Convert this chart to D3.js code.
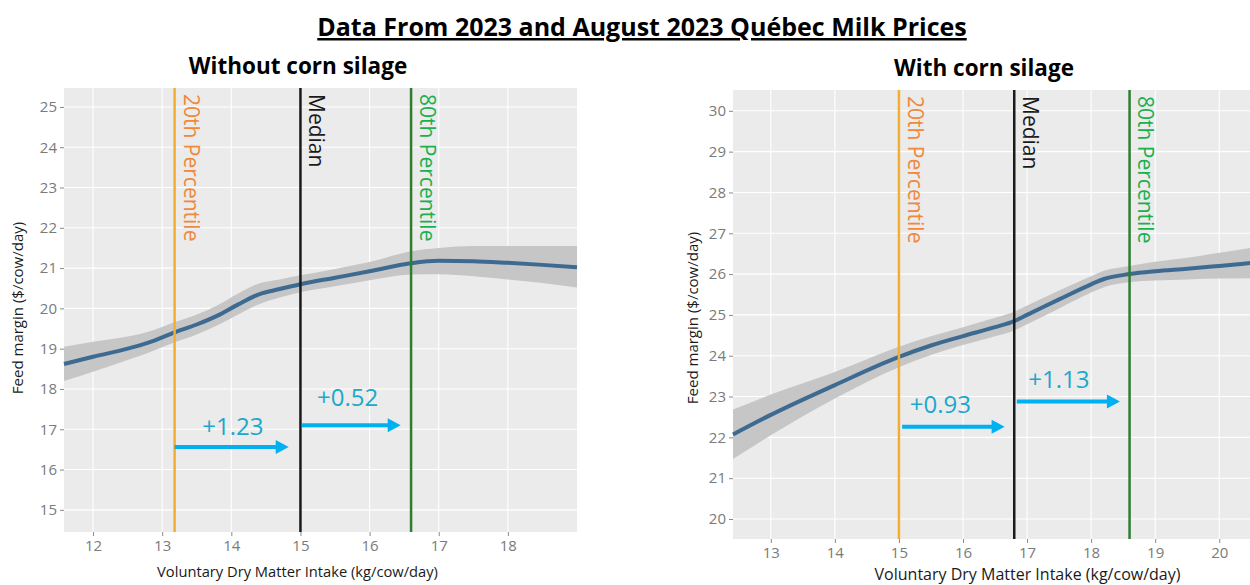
<!DOCTYPE html>
<html>
<head>
<meta charset="utf-8">
<script src="https://cdn.jsdelivr.net/npm/d3@7"></script>
<style>
  body { margin: 0; background: #fff; }
  svg text { font-family: "Open Sans", sans-serif; }
</style>
</head>
<body>
<div id="chart"></div>
<script>
const mainTitle = "Data From 2023 and August 2023 Québec Milk Prices";
const xTitle = "Voluntary Dry Matter Intake (kg/cow/day)";
const yTitle = "Feed margin ($/cow/day)";
const markerNames = ["20th Percentile", "Median", "80th Percentile"];

// Without corn silage
const noSilageIntake = [11.58, 12, 12.5, 12.8, 13.2, 13.5, 13.8, 14.1, 14.4, 14.7, 15, 15.5, 16, 16.6, 17, 17.5, 18, 18.5, 19];
const noSilageFit    = [18.62, 18.8, 19.0, 19.15, 19.42, 19.6, 19.82, 20.1, 20.35, 20.48, 20.6, 20.76, 20.92, 21.12, 21.18, 21.17, 21.13, 21.08, 21.02];
const noSilageLow    = [18.2, 18.43, 18.72, 18.9, 19.17, 19.35, 19.58, 19.85, 20.1, 20.27, 20.4, 20.55, 20.7, 20.84, 20.85, 20.8, 20.72, 20.63, 20.52];
const noSilageHigh   = [19.05, 19.17, 19.3, 19.42, 19.67, 19.85, 20.08, 20.37, 20.62, 20.72, 20.82, 20.98, 21.15, 21.42, 21.5, 21.55, 21.55, 21.55, 21.55];
const noSilageMarkers = [13.18, 15.0, 16.6];
const noSilageXTicks = [12, 13, 14, 15, 16, 17, 18];
const noSilageYTicks = [15, 16, 17, 18, 19, 20, 21, 22, 23, 24, 25];
const noSilageGains = ["+1.23", "+0.52"];
const noSilageArrowFrom = [13.18, 15.02];
const noSilageArrowTo = [14.83, 16.45];
const noSilageArrowY = [16.56, 17.1];
const noSilageGainX = [13.58, 15.24];
const noSilageGainY = [16.86, 17.58];

// With corn silage
const silageIntake = [12.41, 13, 14, 15, 15.5, 16, 16.5, 16.8, 17, 17.5, 18, 18.2, 18.6, 19, 19.5, 20, 20.48];
const silageFit    = [22.07, 22.55, 23.28, 23.97, 24.25, 24.48, 24.7, 24.85, 25.0, 25.38, 25.75, 25.88, 26.0, 26.07, 26.13, 26.2, 26.27];
const silageLow    = [21.47, 22.05, 22.95, 23.72, 24.02, 24.26, 24.48, 24.62, 24.77, 25.16, 25.55, 25.68, 25.8, 25.84, 25.87, 25.89, 25.9];
const silageHigh   = [22.68, 23.05, 23.6, 24.22, 24.48, 24.7, 24.93, 25.08, 25.23, 25.6, 25.95, 26.08, 26.2, 26.3, 26.4, 26.52, 26.64];
const silageMarkers = [15.0, 16.8, 18.6];
const silageXTicks = [13, 14, 15, 16, 17, 18, 19, 20];
const silageYTicks = [20, 21, 22, 23, 24, 25, 26, 27, 28, 29, 30];
const silageGains = ["+0.93", "+1.13"];
const silageArrowFrom = [15.05, 16.84];
const silageArrowTo = [16.65, 18.45];
const silageArrowY = [22.26, 22.88];
const silageGainX = [15.17, 17.02];
const silageGainY = [22.6, 23.21];

const width = 1250, height = 585;
const markerColors = ["#f4ad2f", "#1a1a1a", "#2e7d32"];
const markerTextColors = ["#f0883e", "#1a1a1a", "#1bb04f"];

const svg = d3.select("#chart").append("svg")
  .attr("width", width)
  .attr("height", height);

// main title
svg.append("text")
  .attr("x", 642).attr("y", 36)
  .attr("text-anchor", "middle")
  .attr("font-size", 25)
  .attr("font-weight", "bold")
  .attr("text-decoration", "underline")
  .attr("fill", "#000")
  .text(mainTitle);

function drawPanel(p) {
  const x = d3.scaleLinear().domain(p.xDomain).range([p.left, p.right]);
  const y = d3.scaleLinear().domain(p.yDomain).range([p.bottom, p.top]);
  const g = svg.append("g");

  g.append("rect")
    .attr("x", p.left).attr("y", p.top)
    .attr("width", p.right - p.left).attr("height", p.bottom - p.top)
    .attr("fill", "#ebebeb");

  // grid
  g.selectAll(".gx").data(p.xTicks).enter().append("line")
    .attr("x1", d => x(d)).attr("x2", d => x(d))
    .attr("y1", p.top).attr("y2", p.bottom)
    .attr("stroke", "#fff").attr("stroke-width", 1.1);
  g.selectAll(".gy").data(p.yTicks).enter().append("line")
    .attr("x1", p.left).attr("x2", p.right)
    .attr("y1", d => y(d)).attr("y2", d => y(d))
    .attr("stroke", "#fff").attr("stroke-width", 1.1);

  // axes
  const xAxis = g.append("g")
    .attr("transform", `translate(0,${p.bottom})`)
    .call(d3.axisBottom(x).tickValues(p.xTicks).tickSize(4).tickPadding(4));
  const yAxis = g.append("g")
    .attr("transform", `translate(${p.left},0)`)
    .call(d3.axisLeft(y).tickValues(p.yTicks).tickSize(4).tickPadding(3));
  [xAxis, yAxis].forEach(a => {
    a.select(".domain").remove();
    a.selectAll(".tick line").attr("stroke", "#8a8a8a");
    a.selectAll(".tick text")
      .attr("fill", "#7a7a7a")
      .style("font-family", "'Open Sans', sans-serif")
      .style("font-size", "15px");
  });

  // confidence band + fitted line
  const rows = p.intake.map((v, i) => ({ x: v, fit: p.fit[i], lo: p.low[i], hi: p.high[i] }));
  g.append("path")
    .datum(rows)
    .attr("fill", "#c6c6c6")
    .attr("d", d3.area().curve(d3.curveMonotoneX).x(d => x(d.x)).y0(d => y(d.lo)).y1(d => y(d.hi)));
  g.append("path")
    .datum(rows)
    .attr("fill", "none")
    .attr("stroke", "#3d6a91")
    .attr("stroke-width", 4)
    .attr("d", d3.line().curve(d3.curveMonotoneX).x(d => x(d.x)).y(d => y(d.fit)));

  // percentile lines
  p.markers.forEach((m, i) => {
    g.append("line")
      .attr("x1", x(m)).attr("x2", x(m))
      .attr("y1", p.top).attr("y2", p.bottom)
      .attr("stroke", markerColors[i]).attr("stroke-width", 2.5);
    g.append("text")
      .attr("transform", `translate(${x(m) + 10},${p.top + 6}) rotate(90)`)
      .attr("font-size", 21)
      .attr("fill", markerTextColors[i])
      .attr("dy", "0.05em")
      .text(markerNames[i]);
  });

  // gain arrows
  p.gains.forEach((label, i) => {
    const x0 = x(p.arrowFrom[i]), x1 = x(p.arrowTo[i]), yy = y(p.arrowY[i]);
    g.append("line")
      .attr("x1", x0).attr("x2", x1 - 10)
      .attr("y1", yy).attr("y2", yy)
      .attr("stroke", "#00b0f0").attr("stroke-width", 4);
    g.append("path")
      .attr("d", `M${x1},${yy}L${x1 - 13},${yy - 7}L${x1 - 13},${yy + 7}Z`)
      .attr("fill", "#00b0f0");
    g.append("text")
      .attr("x", x(p.gainX[i])).attr("y", y(p.gainY[i]))
      .attr("font-size", 24)
      .attr("fill", "#1ba8cb")
      .text(label);
  });

  // titles
  g.append("text")
    .attr("x", p.titleX).attr("y", p.titleY)
    .attr("text-anchor", "middle")
    .attr("font-size", 22.5)
    .attr("font-weight", "bold")
    .attr("fill", "#000")
    .text(p.title);
  g.append("text")
    .attr("x", (p.left + p.right) / 2 + p.xTitleShift).attr("y", p.xTitleY)
    .attr("text-anchor", "middle")
    .attr("font-size", p.xTitleSize)
    .attr("fill", "#1a1a1a")
    .text(xTitle);
  g.append("text")
    .attr("transform", `translate(${p.yTitleX},${p.yTitleMid}) rotate(-90)`)
    .attr("text-anchor", "middle")
    .attr("font-size", 15)
    .attr("fill", "#1a1a1a")
    .text(yTitle);
}

drawPanel({
  title: "Without corn silage", titleX: 298, titleY: 74,
  left: 64, right: 577, top: 88, bottom: 532,
  xDomain: [11.58, 19.0], yDomain: [14.45, 25.47],
  xTicks: noSilageXTicks, yTicks: noSilageYTicks,
  intake: noSilageIntake, fit: noSilageFit, low: noSilageLow, high: noSilageHigh,
  markers: noSilageMarkers,
  gains: noSilageGains, arrowFrom: noSilageArrowFrom, arrowTo: noSilageArrowTo, arrowY: noSilageArrowY,
  gainX: noSilageGainX, gainY: noSilageGainY,
  xTitleY: 577, xTitleSize: 14.7, xTitleShift: -23, yTitleX: 23, yTitleMid: 308
});

drawPanel({
  title: "With corn silage", titleX: 984, titleY: 76,
  left: 733, right: 1250, top: 90, bottom: 539,
  xDomain: [12.41, 20.48], yDomain: [19.51, 30.51],
  xTicks: silageXTicks, yTicks: silageYTicks,
  intake: silageIntake, fit: silageFit, low: silageLow, high: silageHigh,
  markers: silageMarkers,
  gains: silageGains, arrowFrom: silageArrowFrom, arrowTo: silageArrowTo, arrowY: silageArrowY,
  gainX: silageGainX, gainY: silageGainY,
  xTitleY: 580, xTitleSize: 16, xTitleShift: 36, yTitleX: 698, yTitleMid: 318
});
</script>
</body>
</html>
